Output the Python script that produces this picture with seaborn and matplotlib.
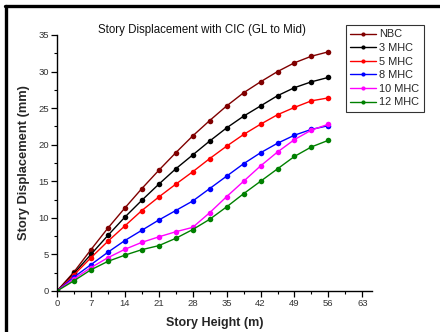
import matplotlib
matplotlib.use("Agg")
import matplotlib.pyplot as plt
import seaborn as sns
import pandas as pd
from matplotlib.ticker import MultipleLocator
from matplotlib.lines import Line2D

heights = [0, 3.5, 7, 10.5, 14, 17.5, 21, 24.5, 28, 31.5, 35, 38.5, 42, 45.5, 49, 52.5, 56]
nbc   = [0, 2.6, 5.65, 8.6, 11.35, 14.0, 16.5, 18.9, 21.2, 23.3, 25.3, 27.1, 28.6, 30.0, 31.2, 32.1, 32.7]
mhc3  = [0, 2.4, 5.0, 7.6, 10.1, 12.4, 14.6, 16.7, 18.6, 20.5, 22.3, 23.9, 25.3, 26.7, 27.8, 28.6, 29.2]
mhc5  = [0, 2.2, 4.55, 6.8, 8.9, 11.0, 12.85, 14.6, 16.3, 18.1, 19.8, 21.4, 22.8, 24.1, 25.1, 26.0, 26.4]
mhc8  = [0, 1.9, 3.6, 5.3, 6.9, 8.3, 9.7, 11.0, 12.3, 14.0, 15.7, 17.4, 18.9, 20.2, 21.3, 22.1, 22.6]
mhc10 = [0, 1.65, 3.2, 4.55, 5.7, 6.65, 7.4, 8.1, 8.7, 10.7, 12.9, 15.0, 17.1, 19.0, 20.7, 22.0, 22.8]
mhc12 = [0, 1.4, 2.9, 4.05, 4.9, 5.65, 6.2, 7.2, 8.4, 9.8, 11.5, 13.3, 15.0, 16.7, 18.4, 19.7, 20.6]

series_names = ["NBC", "3 MHC", "5 MHC", "8 MHC", "10 MHC", "12 MHC"]
series_vals = [nbc, mhc3, mhc5, mhc8, mhc10, mhc12]
colors = ["#800000", "#000000", "#ff0000", "#0000ff", "#ff00ff", "#008000"]

rows = []
for name, vals in zip(series_names, series_vals):
    for h, v in zip(heights, vals):
        rows.append({"Height": h, "Disp": v, "Series": name})
df = pd.DataFrame(rows)

sns.set_theme(style="white")
plt.rcParams["font.family"] = ["Liberation Sans", "DejaVu Sans"]

fig = plt.figure(figsize=(4.4, 3.32), dpi=100)
ax = fig.add_axes([57/440, 41/332, (372-57)/440, (291-35)/332])

sns.lineplot(data=df, x="Height", y="Disp", hue="Series", hue_order=series_names,
             palette=colors, marker="o", markersize=4, markeredgewidth=0,
             linewidth=1.0, ax=ax, legend=False)

ax.set_xlim(0, 65)
ax.set_ylim(0, 35)
ax.xaxis.set_major_locator(MultipleLocator(7))
ax.xaxis.set_minor_locator(MultipleLocator(3.5))
ax.yaxis.set_major_locator(MultipleLocator(5))
ax.yaxis.set_minor_locator(MultipleLocator(2.5))
ax.set_xticks(list(range(0, 64, 7)))
ax.tick_params(axis="both", which="major", direction="out", length=4, width=0.9,
               labelsize=6.8, labelcolor="#333333", color="black", pad=2,
               bottom=True, left=True)
ax.tick_params(axis="both", which="minor", direction="out", length=2.5, width=0.8,
               color="black", bottom=True, left=True)
for s in ["top", "right"]:
    ax.spines[s].set_visible(False)
for s in ["left", "bottom"]:
    ax.spines[s].set_color("black")
    ax.spines[s].set_linewidth(1.0)

ax.set_xlabel("Story Height (m)", fontsize=9, fontweight="bold", labelpad=6)
ax.set_ylabel("Story Displacement (mm)", fontsize=9.3, fontweight="bold", labelpad=6)

fig.text(202/440, 1 - 30/332, "Story Displacement with CIC (GL to Mid)",
         ha="center", va="center", fontsize=8.3, color="#111111")

handles = [Line2D([0], [0], color=c, marker="o", markersize=3, markeredgewidth=0,
                  linewidth=1.0) for c in colors]
leg = fig.legend(handles, series_names, loc="upper left",
                 bbox_to_anchor=(346/440, 1 - 25/332), frameon=True, fancybox=False,
                 fontsize=7.9, handlelength=2.3, handletextpad=0.35,
                 labelspacing=0.33, borderpad=0.4, borderaxespad=0)
leg.get_frame().set_edgecolor("black")
leg.get_frame().set_linewidth(0.8)

# figure border (left and top)
fig.add_artist(Line2D([6/440, 6/440], [0, 1 - 6/332], transform=fig.transFigure,
                      color="black", linewidth=2.4))
fig.add_artist(Line2D([5/440, 1], [1 - 6/332, 1 - 6/332], transform=fig.transFigure,
                      color="black", linewidth=2.4))

fig.savefig("out.png", dpi=100)
